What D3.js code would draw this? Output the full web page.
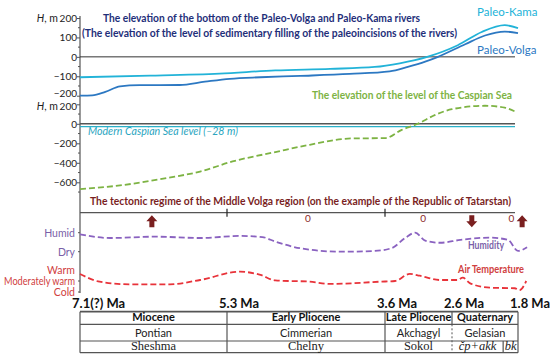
<!DOCTYPE html>
<html>
<head>
<meta charset="utf-8">
<script src="https://cdn.jsdelivr.net/npm/d3@7"></script>
<style>
  body { margin: 0; background: #fff; }
  svg { display: block; font-family: Lato, "Open Sans", sans-serif; }
</style>
</head>
<body>
<div id="chart"></div>
<script>
// Age boundaries (Ma) and their labels
const ageTicks = [7.1, 5.3, 3.6, 2.6, 1.8];
const ageLabels = ["7.1(?) Ma", "5.3 Ma", "3.6 Ma", "2.6 Ma", "1.8 Ma"];

// Paleo-rivers bottom elevation, m  [age, H]
const paleoKama = [[7.1,-105],[6.24,-97],[5.39,-86],[4.78,-70],[4.19,-62],[3.71,-52],[3.38,-33],[2.97,0],[2.53,60],[2.24,128],[1.96,163],[1.8,148]];
const paleoVolga = [[7.1,-200],[6.95,-198],[6.79,-180],[6.61,-152],[6.37,-146],[5.88,-145],[5.57,-128],[5.27,-113],[4.94,-105],[4.51,-98],[3.98,-88],[3.53,-75],[3.26,-52],[3.0,-25],[2.81,0],[2.44,65],[2.2,110],[1.96,130],[1.8,122]];

// Caspian Sea level, m
const caspian = [[7.1,-670],[6.61,-632],[6.03,-555],[5.63,-490],[5.24,-386],[4.78,-290],[4.41,-215],[3.96,-150],[3.6,-147],[3.35,-62],[3.11,0],[2.85,92],[2.6,150],[2.2,185],[1.96,165],[1.81,116]];
const modernCaspian = -28;

// Tectonic regime marks
const tectonic = [
  { age: 6.22, type: "up" }, { age: 4.43, type: "0" }, { age: 3.03, type: "0" },
  { age: 2.36, type: "down" }, { age: 1.88, type: "0" }, { age: 1.75, type: "up" }
];

// Humidity (0 = Dry, 1 = Humid)
const humidity = [[7.1,0.91],[6.73,0.72],[6.18,0.79],[5.63,0.72],[5.16,0.83],[4.92,0.77],[4.78,0.53],[4.51,0.18],[4.08,0],[3.71,0.04],[3.5,0.19],[3.3,0.72],[3.15,1.0],[3.0,0.58],[2.78,0.47],[2.5,0.62],[2.14,0.74],[1.92,0.62],[1.8,0.04],[1.69,0.23]];

// Air temperature (0 = Cold, 1 = Moderately warm, 2 = Warm)
const temperature = [[7.1,1.64],[6.86,0.94],[6.49,0.7],[6.0,0.7],[5.63,1.09],[5.16,1.85],[4.94,1.55],[4.78,1.05],[4.41,0.94],[4.19,0.73],[3.65,0.94],[3.45,1.0],[3.23,1.64],[3.08,1.48],[2.78,1.09],[2.53,1.09],[2.47,1.3],[2.38,0.79],[2.14,0.39],[1.84,0.34],[1.78,0.18],[1.7,1.0]];

// Stratigraphic table
const epochs = ["Miocene", "Early Pliocene", "Late Pliocene", "Quaternary"];
const stages = ["Pontian", "Cimmerian", "Akchagyl", "Gelasian"];
const horizons = [
  { from: 7.1, to: 5.3, name: "Sheshma" }, { from: 5.3, to: 3.6, name: "Chelny" },
  { from: 3.6, to: 2.6, name: "Sokol" }, { from: 2.6, to: 1.98, name: "čp+akk", it: true },
  { from: 1.98, to: 1.8, name: "bk", it: true }
];

const width = 550, height = 363;
const svg = d3.select("#chart").append("svg")
  .attr("width", width).attr("height", height);

const x = d3.scaleLinear().domain(ageTicks).range([80, 227, 385, 452, 518]);
const yTop = d3.scaleLinear().domain([-200, 200]).range([95.7, 18]);
const yMid = d3.scaleLinear().domain([-600, 200]).range([182.3, 104.3]);
const yHum = d3.scaleLinear().domain([0, 1]).range([251.7, 232.7]);
const yTemp = d3.scaleLinear().domain([0, 2]).range([292, 270]);

const x0 = x(7.1), xEnd = 515;
const curve = d3.curveMonotoneX;

// main vertical axis line
svg.append("line").attr("x1", x0).attr("x2", x0).attr("y1", 16).attr("y2", 293)
  .attr("stroke", "#555").attr("stroke-width", 1.2);

function yAxis(scale, ticks, minor, nudge) {
  const g = svg.append("g").attr("transform", `translate(${x0},0)`);
  g.call(d3.axisLeft(scale).tickValues(ticks).tickSize(3).tickSizeOuter(0));
  g.select(".domain").remove();
  g.selectAll("text").attr("font-size", 10).attr("fill", "#222").attr("x", -3)
    .attr("y", d => nudge[d] || 0)
    .style("font-family", "Lato, sans-serif");
  g.selectAll("line").attr("stroke", "#555");
  g.selectAll(".minor").data(minor).enter().append("line")
    .attr("x1", -2).attr("x2", 0).attr("y1", d => scale(d)).attr("y2", d => scale(d))
    .attr("stroke", "#555");
}
yAxis(yTop, [-200, -100, 0, 100, 200], [-150, -50, 50, 150], { "-200": -2 });
yAxis(yMid, [-600, -400, -200, 0, 200], [-700, -500, -300, -100, 100], { "200": 2 });

function hLabel(y) {
  const t = svg.append("text").attr("x", 58).attr("y", y).attr("text-anchor", "end")
    .attr("font-size", 10.5).attr("fill", "#222");
  t.append("tspan").attr("font-style", "italic").text("H");
  t.append("tspan").text(", m");
}
hLabel(yTop(200) + 4);
hLabel(yMid(200) + 6);

// top panel
svg.append("line").attr("x1", x0).attr("x2", xEnd).attr("y1", yTop(0)).attr("y2", yTop(0))
  .attr("stroke", "#333").attr("stroke-width", 1);

const lineTop = d3.line().x(d => x(d[0])).y(d => yTop(d[1])).curve(curve);
svg.append("path").datum(paleoKama).attr("d", lineTop)
  .attr("fill", "none").attr("stroke", "#22b3d8").attr("stroke-width", 1.8);
svg.append("path").datum(paleoVolga).attr("d", lineTop)
  .attr("fill", "none").attr("stroke", "#2c78c2").attr("stroke-width", 1.8);

svg.append("text").attr("x", 477).attr("y", 16).attr("font-size", 11.5)
  .attr("fill", "#22b3d8").text("Paleo-Kama");
svg.append("text").attr("x", 477).attr("y", 54).attr("font-size", 11.5)
  .attr("fill", "#2c78c2").text("Paleo-Volga");

svg.append("text").attr("x", 103).attr("y", 22).attr("font-size", 11).attr("font-weight", "bold")
  .attr("fill", "#1f2f7a").attr("textLength", 317).attr("lengthAdjust", "spacingAndGlyphs")
  .text("The elevation of the bottom of the Paleo-Volga and Paleo-Kama rivers");
svg.append("text").attr("x", 82).attr("y", 37).attr("font-size", 11).attr("font-weight", "bold")
  .attr("fill", "#1f2f7a").attr("textLength", 375).attr("lengthAdjust", "spacingAndGlyphs")
  .text("(The elevation of the level of sedimentary filling of the paleoincisions of the rivers)");

// middle panel
svg.append("text").attr("x", 312).attr("y", 99).attr("font-size", 11).attr("font-weight", "bold")
  .attr("fill", "#7db343").attr("textLength", 200).attr("lengthAdjust", "spacingAndGlyphs")
  .text("The elevation of the level of the Caspian Sea");

svg.append("line").attr("x1", x0).attr("x2", xEnd).attr("y1", yMid(0)).attr("y2", yMid(0))
  .attr("stroke", "#555").attr("stroke-width", 1.5);
svg.append("line").attr("x1", x0).attr("x2", xEnd)
  .attr("y1", yMid(modernCaspian)).attr("y2", yMid(modernCaspian))
  .attr("stroke", "#2ab0c8").attr("stroke-width", 1.3);
svg.append("text").attr("x", 88).attr("y", 135).attr("font-size", 11).attr("font-style", "italic")
  .attr("fill", "#2aa5c0").attr("textLength", 150).attr("lengthAdjust", "spacingAndGlyphs")
  .text("Modern Caspian Sea level (–28 m)");

const lineMid = d3.line().x(d => x(d[0])).y(d => yMid(d[1])).curve(curve);
svg.append("path").datum(caspian).attr("d", lineMid)
  .attr("fill", "none").attr("stroke", "#7db343").attr("stroke-width", 1.8)
  .attr("stroke-dasharray", "6,3");

// tectonic regime
const yTect = 212.7;
svg.append("text").attr("x", 90).attr("y", 205).attr("font-size", 11).attr("font-weight", "bold")
  .attr("fill", "#7a1f1f").attr("textLength", 421).attr("lengthAdjust", "spacingAndGlyphs")
  .text("The tectonic regime of the Middle Volga region (on the example of the Republic of Tatarstan)");
svg.append("line").attr("x1", x0).attr("x2", xEnd).attr("y1", yTect).attr("y2", yTect)
  .attr("stroke", "#555").attr("stroke-width", 1.2);
svg.selectAll(".ttick").data([5.3, 3.6]).enter().append("line")
  .attr("x1", d => x(d)).attr("x2", d => x(d)).attr("y1", yTect - 4).attr("y2", yTect + 4)
  .attr("stroke", "#222").attr("stroke-width", 1.2);

const arrowUp = "M0,-6 L5.5,0 L2.5,0 L2.5,6 L-2.5,6 L-2.5,0 L-5.5,0 Z";
const arrowDown = "M0,6 L5.5,0 L2.5,0 L2.5,-6 L-2.5,-6 L-2.5,0 L-5.5,0 Z";
tectonic.forEach(d => {
  if (d.type === "0") {
    svg.append("text").attr("x", x(d.age)).attr("y", 222).attr("text-anchor", "middle")
      .attr("font-size", 10).attr("fill", "#8a2a2a").text("0");
  } else {
    svg.append("path").attr("d", d.type === "up" ? arrowUp : arrowDown)
      .attr("transform", `translate(${x(d.age)},${yTect + 8.5})`).attr("fill", "#7a1f1f");
  }
});

// humidity
[["Humid", 1], ["Dry", 0]].forEach(([t, v]) => {
  svg.append("text").attr("x", 75).attr("y", yHum(v) + 4).attr("text-anchor", "end")
    .attr("font-size", 10.5).attr("fill", "#7a5fa8").text(t);
  svg.append("line").attr("x1", x0 - 2).attr("x2", x0).attr("y1", yHum(v)).attr("y2", yHum(v))
    .attr("stroke", "#555");
});
const lineHum = d3.line().x(d => x(d[0])).y(d => yHum(d[1])).curve(curve);
svg.append("path").datum(humidity).attr("d", lineHum)
  .attr("fill", "none").attr("stroke", "#8a62c0").attr("stroke-width", 1.8)
  .attr("stroke-dasharray", "6,3");
svg.append("text").attr("x", 468).attr("y", 249).attr("font-size", 10.5).attr("font-weight", "bold")
  .attr("fill", "#7a5fa8").attr("textLength", 36).attr("lengthAdjust", "spacingAndGlyphs")
  .text("Humidity");

// temperature
[["Warm", 2, false], ["Moderately warm", 1, true], ["Cold", 0, true]].forEach(([t, v, tick]) => {
  const lbl = svg.append("text").attr("x", 75).attr("y", yTemp(v) + 4).attr("text-anchor", "end")
    .attr("font-size", 10.5).attr("fill", "#d04040").text(t);
  if (t === "Moderately warm") lbl.attr("textLength", 71).attr("lengthAdjust", "spacingAndGlyphs");
  if (tick) svg.append("line").attr("x1", x0 - 2).attr("x2", x0)
    .attr("y1", yTemp(v)).attr("y2", yTemp(v)).attr("stroke", "#555");
});
const lineTemp = d3.line().x(d => x(d[0])).y(d => yTemp(d[1])).curve(curve);
svg.append("path").datum(temperature).attr("d", lineTemp)
  .attr("fill", "none").attr("stroke", "#e8333a").attr("stroke-width", 1.8)
  .attr("stroke-dasharray", "6,3");
svg.append("text").attr("x", 458).attr("y", 273).attr("font-size", 10.5).attr("font-weight", "bold")
  .attr("fill", "#d04040").attr("textLength", 66).attr("lengthAdjust", "spacingAndGlyphs")
  .text("Air Temperature");

// age labels
svg.selectAll(".age").data(ageTicks).enter().append("text")
  .attr("x", d => x(d) - 8).attr("y", 308)
  .attr("font-size", 13).attr("font-weight", "bold").attr("fill", "#111")
  .text((d, i) => ageLabels[i]);

// table
const rows = [311.7, 324.3, 341, 352.7];
const tx0 = x(7.1), tx1 = x(1.8);
const grid = svg.append("g").attr("stroke", "#555").attr("stroke-width", 1.2);
rows.forEach((r, i) => grid.append("line").attr("x1", tx0).attr("x2", tx1).attr("y1", r).attr("y2", r)
  .attr("stroke-width", i === 0 ? 1.8 : 1.2));
[7.1, 5.3, 3.6, 1.8].forEach(a => grid.append("line")
  .attr("x1", x(a)).attr("x2", x(a)).attr("y1", rows[0]).attr("y2", rows[3]));
grid.append("line").attr("x1", x(2.6)).attr("x2", x(2.6)).attr("y1", rows[0]).attr("y2", rows[1]);
grid.append("line").attr("x1", x(2.6)).attr("x2", x(2.6)).attr("y1", rows[1]).attr("y2", rows[3])
  .attr("stroke-dasharray", "2,2").attr("stroke-width", 1);
grid.append("line").attr("x1", x(1.98)).attr("x2", x(1.98)).attr("y1", rows[2]).attr("y2", rows[3]);

epochs.forEach((e, i) => {
  svg.append("text").attr("x", (x(ageTicks[i]) + x(ageTicks[i + 1])) / 2).attr("y", rows[1] - 3)
    .attr("text-anchor", "middle").attr("font-size", 11).attr("font-weight", "bold")
    .attr("fill", "#111").text(e);
});
stages.forEach((s, i) => {
  svg.append("text").attr("x", (x(ageTicks[i]) + x(ageTicks[i + 1])) / 2).attr("y", rows[2] - 4)
    .attr("text-anchor", "middle").attr("font-size", 11).attr("fill", "#222").text(s);
});
horizons.forEach(h => {
  svg.append("text").attr("x", (x(h.from) + x(h.to)) / 2).attr("y", rows[3] - 2.5)
    .attr("text-anchor", "middle").attr("font-size", 12.5)
    .attr("font-family", "'Liberation Serif', 'DejaVu Serif', serif")
    .attr("font-style", h.it ? "italic" : "normal").attr("fill", "#222").text(h.name);
});
</script>
</body>
</html>
